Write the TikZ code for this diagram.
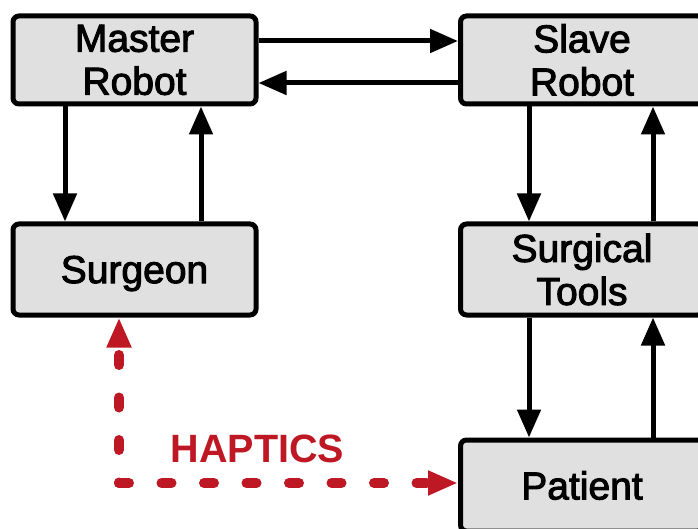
\documentclass[tikz,border=0pt]{standalone}
\usepackage{fontspec}
\setmainfont{Liberation Sans}
\newfontfamily\labelfont[FakeBold=2.5]{Liberation Sans}
\usetikzlibrary{arrows.meta}
\definecolor{boxgray}{RGB}{224,224,224}
\definecolor{haptred}{RGB}{190,24,36}
\tikzset{
  block/.style={draw=black, fill=boxgray, line width=5pt, rounded corners=6pt,
    minimum width=243pt, align=center, inner sep=0pt,
    font=\labelfont\fontsize{39}{43}\selectfont},
  arr/.style={line width=5pt, -{Triangle[length=28pt,width=23pt]}},
  haptic/.style={draw=haptred, line width=10pt, line cap=round,
    dash pattern=on 10pt off 32.5pt,
    -{Triangle[length=30pt,width=23pt,fill=haptred]}},
}
\begin{document}
\begin{tikzpicture}[x=1pt,y=-1pt]
  \useasboundingbox (0,0) rectangle (698,529);
  \clip (0,0) rectangle (698,529);

  % system blocks
  \node[block, minimum height=88pt] (master)  at (134.5,60)  {Master\\Robot};
  \node[block, minimum height=88pt] (slave)   at (582,60)    {Slave\\Robot};
  \node[block, minimum height=91pt, text depth=0pt] (surgeon) at (134.5,269.5) {Surgeon};
  \node[block, minimum height=91pt] (tools)   at (582,269.5)   {Surgical\\Tools};
  \node[block, minimum height=91pt] (patient) at (582,485.5)   {Patient};

  % master <-> slave
  \draw[arr] ([yshift=19pt]master.east) -- ([yshift=19pt]slave.west);
  \draw[arr] ([yshift=-23pt]slave.west) -- ([yshift=-23pt]master.east);

  % master <-> surgeon
  \draw[arr] ([xshift=-69.5pt]master.south) -- ([xshift=-69.5pt]surgeon.north);
  \draw[arr] ([xshift=66.5pt]surgeon.north) -- ([xshift=66.5pt]master.south);

  % slave <-> surgical tools
  \draw[arr] ([xshift=-53pt]slave.south) -- ([xshift=-53pt]tools.north);
  \draw[arr] ([xshift=71pt]tools.north) -- ([xshift=71pt]slave.south);

  % surgical tools <-> patient
  \draw[arr] ([xshift=-53pt]tools.south) -- ([xshift=-53pt]patient.north);
  \draw[arr] ([xshift=71pt]patient.north) -- ([xshift=71pt]tools.south);

  % haptic feedback path
  \coordinate (corner) at (119,483);
  \draw[haptic] (corner) -- (corner -| patient.west);
  \draw[haptic, dash phase=9.5pt] (corner) -- (corner |- surgeon.south);
  \node[anchor=base, text=haptred, inner sep=0pt,
        font=\bfseries\fontsize{39.5}{44}\selectfont] (haptics) at (257.5,462) {HAPTICS};
\end{tikzpicture}
\end{document}
